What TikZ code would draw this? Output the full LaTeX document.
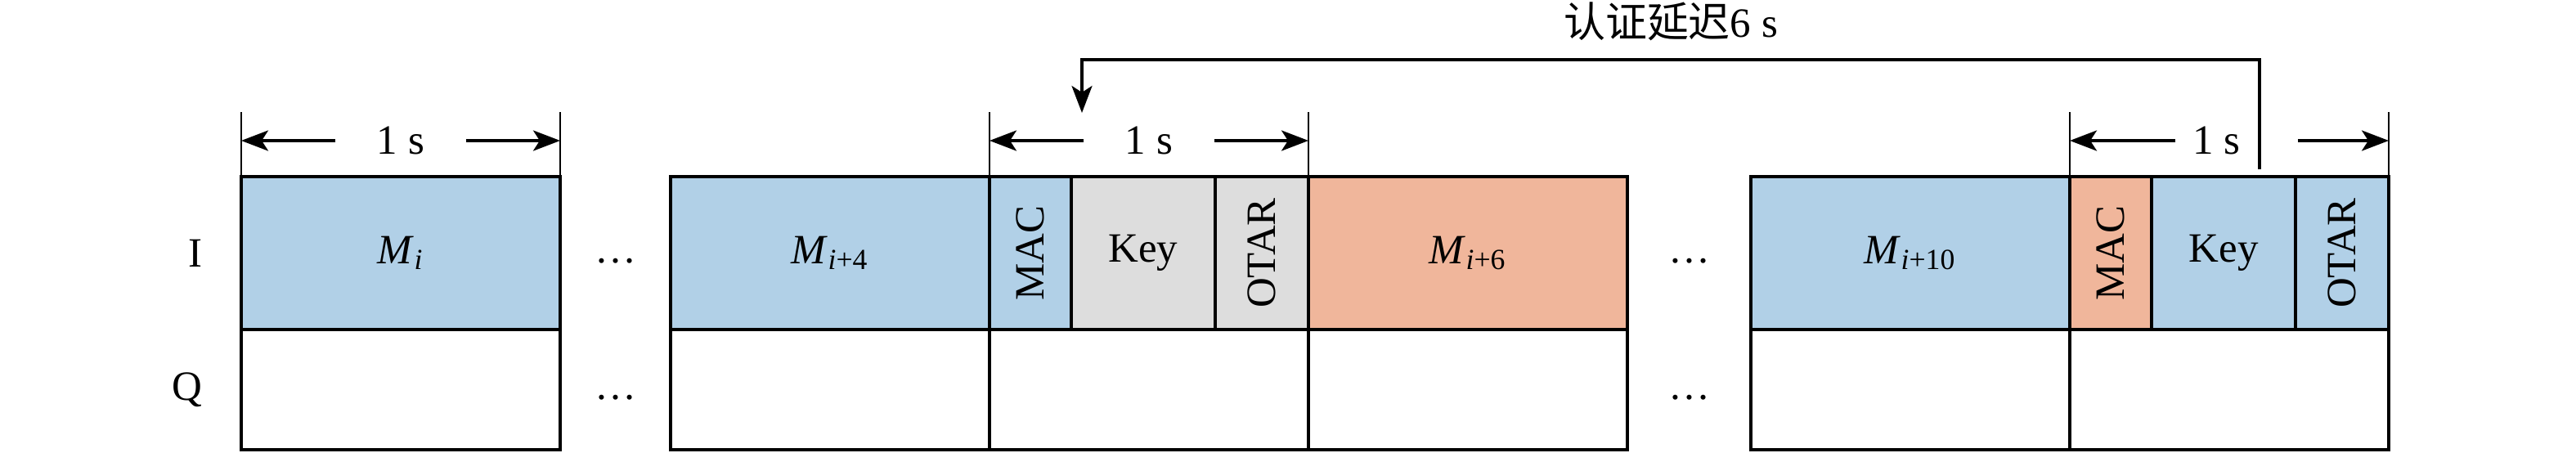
\documentclass[tikz,border=0pt]{standalone}
\usepackage{fontspec}
\usepackage{graphicx}
\setmainfont{Liberation Serif}
\newfontfamily\cjk{Noto Sans CJK SC}
\usetikzlibrary{shapes,arrows.meta,positioning,calc}
\definecolor{msgblue}{RGB}{177,208,231}
\definecolor{msgorange}{RGB}{240,182,155}
\definecolor{keygray}{RGB}{221,221,221}
\newcommand{\msgname}[1]{\textit{M}\textsubscript{#1}}
\newcommand{\vtext}[1]{\rotatebox{90}{#1}}
\tikzstyle{frame} = [rectangle, draw, line width=1.3pt, inner sep=0pt,
    outer sep=0pt, minimum height=1.87cm]
\tikzstyle{msg} = [frame, fill=msgblue, minimum width=3.9cm]
\tikzstyle{mac} = [frame, minimum width=1.0cm]
\tikzstyle{key} = [frame, minimum width=1.76cm]
\tikzstyle{otar} = [frame, minimum width=1.14cm]
\tikzstyle{qbox} = [rectangle, draw, line width=1.3pt, inner sep=0pt,
    outer sep=0pt, minimum height=1.47cm, anchor=north west]
\tikzstyle{tick} = [draw, line width=0.6pt]
\tikzstyle{dimlbl} = [inner xsep=0.5cm, inner ysep=0pt]
\tikzstyle{dim} = [draw, line width=0.9pt,
    -{Stealth[length=0.33cm, width=0.25cm, inset=0.08cm]}]

\begin{document}
\begin{tikzpicture}[font=\fontsize{14.5}{17}\selectfont]
    \useasboundingbox (0,0) rectangle (31.5,5.53);
    % Place nodes
    \node [msg, anchor=south west] (mi) at (2.95,1.50) {\msgname{\textit{i}}};
    \node [msg, right=1.35cm of mi] (mi4) {\msgname{\textit{i}+4}};
    \node [mac, fill=msgblue, right=0pt of mi4] (mac1) {\vtext{MAC}};
    \node [key, fill=keygray, right=0pt of mac1] (key1) {Key};
    \node [otar, fill=keygray, right=0pt of key1] (otar1) {\vtext{OTAR}};
    \node [msg, fill=msgorange, right=0pt of otar1] (mi6) {\msgname{\textit{i}+6}};
    \node [msg, right=1.51cm of mi6] (mi10) {\msgname{\textit{i}+10}};
    \node [mac, fill=msgorange, right=0pt of mi10] (mac2) {\vtext{MAC}};
    \node [key, fill=msgblue, right=0pt of mac2] (key2) {Key};
    \node [otar, fill=msgblue, right=0pt of key2] (otar2) {\vtext{OTAR}};
    % Q row
    \node [qbox, minimum width=3.9cm] (qi) at (mi.south west) {};
    \node [qbox, minimum width=3.9cm] (qi4) at (mi4.south west) {};
    \node [qbox, minimum width=3.9cm] (qauth1) at (mac1.south west) {};
    \node [qbox, minimum width=3.9cm] (qi6) at (mi6.south west) {};
    \node [qbox, minimum width=3.9cm] (qi10) at (mi10.south west) {};
    \node [qbox, minimum width=3.9cm] (qauth2) at (mac2.south west) {};
    \node [left=0.35cm of mi] (ilbl) {I};
    \node [left=0.35cm of qi] (qlbl) {Q};
    \node (dots1) at ($(mi.east)!0.5!(mi4.west)+(0,-0.1)$) {\dots};
    \node (dots2) at ($(qi.east)!0.5!(qi4.west)+(0,-0.1)$) {\dots};
    \node (dots3) at ($(mi6.east)!0.5!(mi10.west)+(0,-0.1)$) {\dots};
    \node (dots4) at ($(qi6.east)!0.5!(qi10.west)+(0,-0.1)$) {\dots};
    % Dimension labels
    \node [dimlbl] (d1) at ($(mi.north)+(0,0.44)$) {1 s};
    \node [dimlbl] (d2) at ($(mac1.north west)+(1.95,0.44)$) {1 s};
    \node [dimlbl, inner xsep=0.2cm] (d3) at ($(mac2.north west)+(1.79,0.44)$) {1 s};
    \coordinate (dstart) at ($(key2.north west)+(1.32,0.09)$);
    \coordinate (dend) at ($(mac1.north west)+(1.13,0.78)$);
    \node (delay) at (20.43,5.27) {{\cjk 认证延迟}6 s};
    % Draw edges
    \path [tick] (mi.north west) -- ++(0,0.79);
    \path [tick] (mi.north east) -- ++(0,0.79);
    \path [tick] (mac1.north west) -- ++(0,0.79);
    \path [tick] (otar1.north east) -- ++(0,0.79);
    \path [tick] (mac2.north west) -- ++(0,0.79);
    \path [tick] (otar2.north east) -- ++(0,0.79);
    \path [dim] (d1.west) -- (d1.west -| mi.west);
    \path [dim] (d1.east) -- (d1.east -| mi.east);
    \path [dim] (d2.west) -- (d2.west -| mac1.west);
    \path [dim] (d2.east) -- (d2.east -| otar1.east);
    \path [dim] (d3.west) -- (d3.west -| mac2.west);
    \path [dim] ([xshift=0.5cm]d3.east) -- (d3.east -| otar2.east);
    \path [dim] (dstart) -- ++(0,1.34) -| (dend);
\end{tikzpicture}
\end{document}
